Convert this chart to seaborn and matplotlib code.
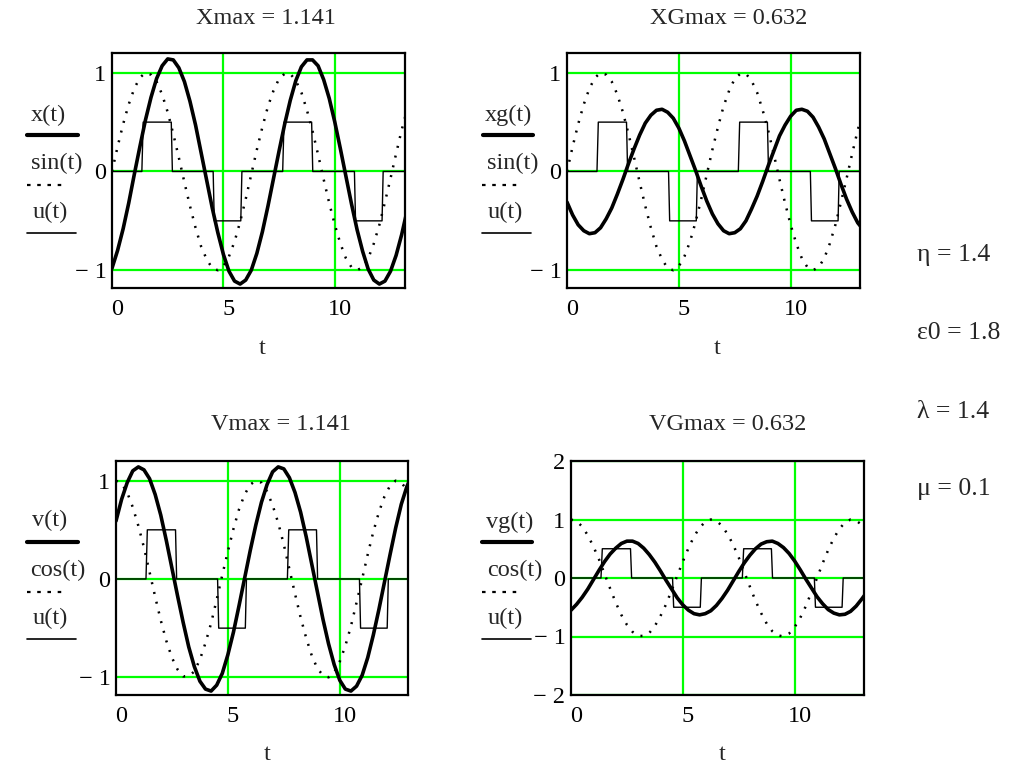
import numpy as np
import matplotlib
matplotlib.use("Agg")
import matplotlib.pyplot as plt
from matplotlib.lines import Line2D
import matplotlib.transforms as mtransforms
import seaborn as sns
import pandas as pd

# timp (pas 0.25)
t = [0.0, 0.25, 0.5, 0.75, 1.0, 1.25, 1.5, 1.75, 2.0, 2.25, 2.5, 2.75, 3.0, 3.25,
     3.5, 3.75, 4.0, 4.25, 4.5, 4.75, 5.0, 5.25, 5.5, 5.75, 6.0, 6.25, 6.5, 6.75,
     7.0, 7.25, 7.5, 7.75, 8.0, 8.25, 8.5, 8.75, 9.0, 9.25, 9.5, 9.75, 10.0, 10.25,
     10.5, 10.75, 11.0, 11.25, 11.5, 11.75, 12.0, 12.25, 12.5, 12.75, 13.0, 13.25]

# valori, in sutimi
sin_c = [0, 25, 48, 68, 84, 95, 100, 98, 91, 78, 60, 38, 14, -11, -35, -57, -76, -89, -98, -100,
         -96, -86, -71, -51, -28, -3, 22, 45, 66, 82, 94, 99, 99, 92, 80, 62, 41, 17, -8, -32,
         -54, -73, -88, -97, -100, -97, -88, -73, -54, -31, -7, 18, 42, 63]
cos_c = [100, 97, 88, 73, 54, 32, 7, -18, -42, -63, -80, -92, -99, -99, -94, -82, -65, -45, -21, 4,
         28, 51, 71, 86, 96, 100, 98, 89, 75, 57, 35, 10, -15, -39, -60, -78, -91, -98, -100, -95,
         -84, -68, -48, -24, 0, 25, 48, 68, 84, 95, 100, 98, 91, 78]
x_c = [-98, -80, -58, -32, -3, 25, 52, 75, 94, 107, 114, 113, 105, 91, 71, 47, 19, -9, -37, -62,
       -84, -101, -111, -114, -110, -100, -83, -61, -35, -7, 21, 48, 72, 92, 106, 113, 113, 107, 93, 74,
       50, 23, -5, -33, -59, -81, -99, -110, -114, -111, -101, -85, -64, -39]
v_c = [59, 81, 98, 110, 114, 111, 102, 86, 65, 39, 11, -17, -44, -69, -89, -104, -112, -114, -108, -96,
       -77, -54, -27, 1, 29, 55, 78, 96, 109, 114, 112, 103, 88, 68, 43, 15, -13, -41, -66, -87,
       -103, -112, -114, -109, -98, -80, -57, -31, -3, 25, 52, 76, 94, 107]
xg_c = [-31, -44, -54, -60, -63, -62, -57, -48, -37, -23, -8, 8, 23, 37, 49, 57, 62, 63, 60, 54,
        44, 31, 16, 1, -15, -30, -43, -53, -60, -63, -62, -58, -50, -38, -25, -10, 6, 21, 36, 47,
        56, 62, 63, 61, 55, 45, 33, 18, 3, -13, -28, -41, -52, -59]
vg_c = [-55, -45, -33, -19, -3, 13, 28, 41, 51, 59, 63, 63, 59, 51, 40, 27, 12, -4, -19, -34,
        -46, -55, -61, -63, -61, -56, -47, -35, -21, -5, 11, 26, 39, 50, 58, 62, 63, 59, 52, 42,
        29, 14, -2, -17, -32, -44, -54, -60, -63, -62, -57, -48, -36, -23]

# u(t) - impulsuri dreptunghiulare (colturi)
u_t = [0, 1.34, 1.40, 2.66, 2.71, 4.54, 4.59, 5.78, 5.83, 7.66, 7.72, 8.96, 9.01,
       10.88, 10.93, 12.12, 12.17, 13.25]
u_val = [0, 0, 0.5, 0.5, 0, 0, -0.5, -0.5, 0, 0, 0.5, 0.5, 0, 0, -0.5, -0.5, 0, 0]

titles = ["Xmax = 1.141", "XGmax = 0.632", "Vmax = 1.141", "VGmax = 0.632"]
params = ["η = 1.4", "ε0 = 1.8", "λ = 1.4", "μ = 0.1"]

W, H = 1026, 766
GREEN = "#00ff00"
DOTS = (0, (0.8, 3.2))

sns.set_theme(style="white")
plt.rcParams["font.family"] = ["Liberation Serif", "DejaVu Serif"]


def px(x, y):
    return x / W, 1 - y / H


def make_axes(fig, x0, x1, y0, y1):
    return fig.add_axes([x0 / W, 1 - y1 / H, (x1 - x0) / W, (y1 - y0) / H])


def draw_panel(ax, main, ref, ylim, yticks, yticklabels, xmax):
    df_u = pd.DataFrame({"t": u_t, "y": u_val})
    df_ref = pd.DataFrame({"t": t, "y": np.array(ref) / 100})
    df_main = pd.DataFrame({"t": t, "y": np.array(main) / 100})
    sns.lineplot(data=df_u, x="t", y="y", ax=ax, color="black", lw=1.0, sort=False, zorder=3)
    sns.lineplot(data=df_ref, x="t", y="y", ax=ax, color="black", lw=1.8, linestyle=DOTS, zorder=3)
    sns.lineplot(data=df_main, x="t", y="y", ax=ax, color="black", lw=2.6, zorder=4)
    ax.set_xlim(0, xmax)
    ax.set_ylim(*ylim)
    ax.set_xticks([0, 5, 10])
    ax.set_xticklabels(["0", "5", "10"])
    ax.set_yticks(yticks)
    ax.set_yticklabels(yticklabels)
    for v in [5, 10]:
        ax.axvline(v, color=GREEN, lw=1.6, zorder=1)
    for v in yticks:
        ax.axhline(v, color=GREEN, lw=1.6, zorder=1)
    ax.set_xlabel("")
    ax.set_ylabel("")
    ax.tick_params(axis="both", length=0, labelsize=17.5, colors="black")
    ax.tick_params(axis="x", pad=8)
    ax.tick_params(axis="y", pad=4)
    # Mathcad pune etichetele x putin la dreapta
    offset = mtransforms.ScaledTranslation(5 / 100, 0, ax.figure.dpi_scale_trans)
    for lab in ax.get_xticklabels():
        lab.set_transform(lab.get_transform() + offset)
    for s in ax.spines.values():
        s.set_color("black")
        s.set_linewidth(1.6)
        s.set_zorder(5)
    ax.grid(False)


def legend_block(fig, x_text, labels, y_text, y_line, x_line0, x_line1):
    styles = [dict(lw=3.0, ls="-"), dict(lw=1.6, ls=(0, (1.6, 3.0))), dict(lw=1.2, ls="-")]
    for lab, yt, yl, xt, xa, xb, st in zip(labels, y_text, y_line, x_text, x_line0, x_line1, styles):
        fig.text(*px(xt, yt), lab, ha="center", va="center", fontsize=17.5)
        fig.add_artist(Line2D([xa / W, xb / W], [1 - yl / H, 1 - yl / H], color="black",
                              transform=fig.transFigure, **st))


fig = plt.figure(figsize=(W / 100, H / 100), dpi=100)

std_ylim = (-1.18, 1.2)
std_ticks = [-1, 0, 1]
std_labels = ["\u2212 1", "0", "1"]

ax1 = make_axes(fig, 112, 405, 53, 288)
draw_panel(ax1, x_c, sin_c, std_ylim, std_ticks, std_labels, 13.15)
ax2 = make_axes(fig, 567, 860, 53, 288)
draw_panel(ax2, xg_c, sin_c, std_ylim, std_ticks, std_labels, 13.1)
ax3 = make_axes(fig, 116, 408, 461, 695)
draw_panel(ax3, v_c, cos_c, std_ylim, std_ticks, std_labels, 13.05)
ax4 = make_axes(fig, 571, 864, 461, 695)
draw_panel(ax4, vg_c, cos_c, (-2, 2), [-2, -1, 0, 1, 2],
           ["\u2212 2", "\u2212 1", "0", "1", "2"], 13.1)

# titluri
for lab, (xx, yy) in zip(titles, [(266, 19), (729, 19), (281, 424), (728, 424)]):
    fig.text(*px(xx, yy), lab, ha="center", va="center", fontsize=17.5)

# eticheta axei t
for xx, yy in [(262, 348), (717, 348), (267, 755), (722, 755)]:
    fig.text(*px(xx, yy), "t", ha="center", va="center", fontsize=17.5)

# legende Mathcad pe axa y
legend_block(fig, [48, 57, 50], ["x(t)", "sin(t)", "u(t)"], [115, 163, 212], [135, 185, 233],
             [27, 27, 27], [78, 67, 76])
legend_block(fig, [508, 513, 505], ["xg(t)", "sin(t)", "u(t)"], [115, 163, 212], [135, 185, 233],
             [483, 482, 482], [533, 522, 531])
legend_block(fig, [50, 58, 50], ["v(t)", "cos(t)", "u(t)"], [520, 570, 618], [542, 592, 639],
             [27, 27, 27], [78, 67, 76])
legend_block(fig, [510, 515, 505], ["vg(t)", "cos(t)", "u(t)"], [522, 570, 618], [542, 592, 639],
             [482, 482, 482], [532, 522, 531])

# parametri
for lab, yy in zip(params, [255, 333, 412, 489]):
    fig.text(*px(917, yy), lab, ha="left", va="center", fontsize=18.5)

fig.savefig("out.png", dpi=100)
